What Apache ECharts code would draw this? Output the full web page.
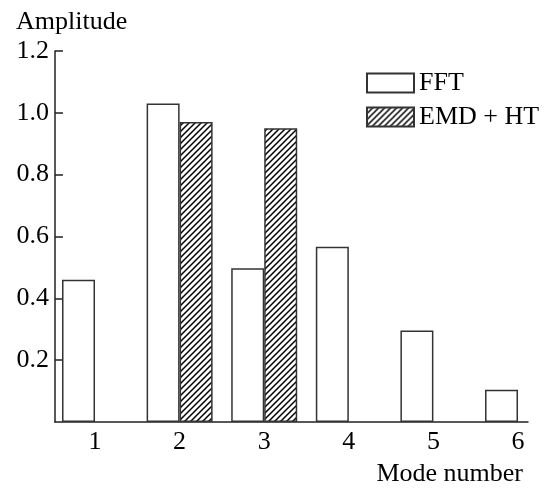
<!DOCTYPE html>
<html><head><meta charset="utf-8">
<script src="https://cdn.jsdelivr.net/npm/echarts@6/dist/echarts.min.js"></script>
<style>html,body{margin:0;padding:0;background:#fff}#c{width:548px;height:489px}</style>
</head><body><div id="c"></div>
<script>
const modes = [1, 2, 3, 4, 5, 6];
const fftValues = [0.46, 1.03, 0.497, 0.567, 0.296, 0.104];
const emdModes = [2, 3];
const emdValues = [0.97, 0.95];
const xTicks = [1, 2, 3, 4, 5, 6];
const yTicks = [0.2, 0.4, 0.6, 0.8, 1.0, 1.2];

function hatch() {
  const s = 6, c = document.createElement('canvas');
  c.width = s; c.height = s;
  const g = c.getContext('2d');
  g.fillStyle = '#fff'; g.fillRect(0, 0, s, s);
  g.strokeStyle = '#000'; g.lineWidth = 1.5;
  g.beginPath();
  g.moveTo(-1, s + 1); g.lineTo(s + 1, -1);
  g.moveTo(-1, 1); g.lineTo(1, -1);
  g.moveTo(s - 1, s + 1); g.lineTo(s + 1, s - 1);
  g.stroke();
  return c;
}
const font = 'Liberation Serif';
const chart = echarts.init(document.getElementById('c'), null, {renderer: 'canvas'});
chart.setOption({
  animation: false,
  backgroundColor: '#fff',
  grid: {left: 55, right: 20, top: 51, bottom: 67, containLabel: false, outerBoundsMode: 'none'},
  legend: {
    orient: 'vertical', left: 361, top: 65, itemWidth: 47, itemHeight: 19, itemGap: 8,
    icon: 'rect',
    textStyle: {fontFamily: font, fontSize: 26, color: '#000'},
    data: ['FFT', 'EMD + HT']
  },
  xAxis: {
    type: 'value', min: 0.527, max: 6.118,
    name: 'Mode number', nameLocation: 'end', nameGap: -5,
    nameTextStyle: {fontFamily: font, fontSize: 26, color: '#000', align: 'right', verticalAlign: 'top', padding: [39, 0, 0, 0]},
    axisLine: {show: true, lineStyle: {color: '#222', width: 1.5}},
    axisTick: {show: false},
    splitLine: {show: false},
    axisLabel: {customValues: xTicks, fontFamily: font, fontSize: 26, color: '#000', margin: 7, formatter: v => String(v)}
  },
  yAxis: {
    type: 'value', min: 0, max: 1.2, interval: 0.2,
    name: 'Amplitude', nameLocation: 'end', nameGap: 29,
    nameTextStyle: {fontFamily: font, fontSize: 26, color: '#000', align: 'left', verticalAlign: 'middle', padding: [0, 0, 0, -39]},
    axisLine: {show: true, lineStyle: {color: '#222', width: 1.5}},
    axisTick: {show: true, inside: true, length: 8, lineStyle: {color: '#222', width: 1.5}, customValues: yTicks},
    splitLine: {show: false},
    axisLabel: {customValues: yTicks, fontFamily: font, fontSize: 26, color: '#000', margin: 6, formatter: v => v.toFixed(1)}
  },
  series: [
    {
      name: 'FFT', type: 'bar', barWidth: 33, barGap: '0%',
      itemStyle: {color: '#fff', borderColor: '#333', borderWidth: 1.5},
      data: modes.map((m, i) => [m, fftValues[i]])
    },
    {
      name: 'EMD + HT', type: 'bar', barWidth: 33, barGap: '0%',
      itemStyle: {color: {image: hatch(), repeat: 'repeat'}, borderColor: '#333', borderWidth: 1.5},
      data: emdModes.map((m, i) => [m, emdValues[i]])
    }
  ]
});
</script></body></html>
